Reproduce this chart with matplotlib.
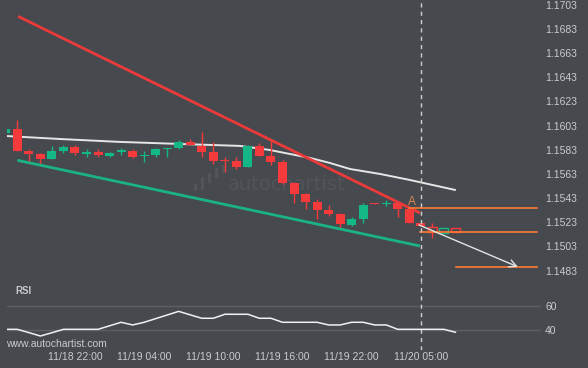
import matplotlib
matplotlib.use('Agg')
import matplotlib.pyplot as plt
from matplotlib.patches import Rectangle

plt.rcParams['font.family'] = ['Liberation Sans', 'DejaVu Sans']

# ---------------- data ----------------
opens = [1.15969, 1.16002, 1.15820, 1.15795, 1.15754, 1.15820, 1.15853, 1.15795, 1.15812, 1.15779,
         1.15812, 1.15820, 1.15779, 1.15787, 1.15837, 1.15845, 1.15894, 1.15861, 1.15812, 1.15746,
         1.15737, 1.15688, 1.15861, 1.15779, 1.15729, 1.15555, 1.15464, 1.15398, 1.15332, 1.15299,
         1.15208, 1.15258, 1.15390, 1.15382, 1.15390, 1.15340, 1.15224]
highs = [1.16002, 1.16076, 1.15837, 1.15803, 1.15861, 1.15870, 1.15870, 1.15837, 1.15837, 1.15812,
         1.15845, 1.15837, 1.15820, 1.15845, 1.15845, 1.15911, 1.15919, 1.15977, 1.15894, 1.15770,
         1.15770, 1.15870, 1.15886, 1.15903, 1.15746, 1.15564, 1.15473, 1.15423, 1.15373, 1.15307,
         1.15274, 1.15390, 1.15390, 1.15415, 1.15390, 1.15349, 1.15233]
lows = [1.15969, 1.15820, 1.15729, 1.15712, 1.15754, 1.15803, 1.15787, 1.15770, 1.15770, 1.15770,
        1.15787, 1.15762, 1.15729, 1.15770, 1.15770, 1.15837, 1.15870, 1.15770, 1.15712, 1.15646,
        1.15671, 1.15688, 1.15779, 1.15704, 1.15547, 1.15390, 1.15340, 1.15258, 1.15282, 1.15183,
        1.15200, 1.15224, 1.15382, 1.15365, 1.15274, 1.15224, 1.15200]
closes = [1.16002, 1.15820, 1.15795, 1.15754, 1.15820, 1.15853, 1.15803, 1.15812, 1.15787, 1.15803,
          1.15828, 1.15770, 1.15787, 1.15837, 1.15845, 1.15894, 1.15870, 1.15812, 1.15737, 1.15737,
          1.15688, 1.15861, 1.15779, 1.15729, 1.15555, 1.15464, 1.15398, 1.15332, 1.15299, 1.15216,
          1.15258, 1.15373, 1.15382, 1.15390, 1.15340, 1.15224, 1.15200]

# projected (hollow) candles
proj_open = [1.15191, 1.15142, 1.15183]
proj_high = [1.15224, 1.15183, 1.15183]
proj_low = [1.15100, 1.15142, 1.15150]
proj_close = [1.15150, 1.15183, 1.15150]

# moving average
ma_x = [0, 4.7, 9.9, 15.1, 20.3, 22.9, 24.65, 26.4, 28.1, 29.85, 32.45, 35.05, 38.95]
ma_y = [1.15944, 1.15919, 1.15895, 1.15878, 1.15862, 1.15828, 1.15795, 1.15762, 1.15721,
        1.15671, 1.15630, 1.15580, 1.15498]

# channel lines
res_x = [1.06, 35.92]
res_y = [1.16934, 1.15307]
sup_x = [1.0, 35.92]
sup_y = [1.15743, 1.15034]

# levels
level_upper = 1.15346
level_lower = 1.15147
level_target = 1.14858
arrow_from = (35.84, 1.15208)
arrow_to = (44.42, 1.14861)
now_index = 36

rsi = [40.8, 40.8, 38.1, 35.3, 38.0, 40.8, 40.8, 40.8, 40.8, 43.7,
       46.6, 44.4, 46.6, 49.6, 52.6, 55.6, 52.7, 49.9, 49.9, 53.2,
       53.2, 53.2, 49.9, 49.9, 46.6, 46.6, 46.6, 46.6, 44.4, 44.4,
       46.6, 46.6, 44.4, 44.4, 40.8, 40.8, 40.8, 40.8, 40.8, 38.4]

price_ticks = [1.1483, 1.1503, 1.1523, 1.1543, 1.1563, 1.1583, 1.1603, 1.1623,
               1.1643, 1.1663, 1.1683, 1.1703]
time_pos = [6, 12, 18, 24, 30, 36]
time_labels = ['11/18 22:00', '11/19 04:00', '11/19 10:00', '11/19 16:00',
               '11/19 22:00', '11/20 05:00']

# ---------------- style ----------------
BG = '#46494e'
RED = '#f53a3b'
GREEN = '#13b886'
TXT = '#c9cbcd'
ORANGE = '#ff7a32'
WM = '#51555a'

W, H = 588, 368
fig = plt.figure(figsize=(W / 100, H / 100), dpi=100, facecolor=BG)


def fx(px):
    return px / W


def fy(py):
    return 1 - py / H


ax = fig.add_axes([fx(7), fy(282), (541 - 7) / W, 282 / H])
rax = fig.add_axes([fx(7), fy(350), (541 - 7) / W, 68 / H])
for a in (ax, rax):
    a.set_facecolor(BG)
    for s in a.spines.values():
        s.set_visible(False)
    a.set_xlim(0.104, 46.42)

ax.set_ylim(1.14736, 1.17069)
rax.set_ylim(23.79, 79.75)

# watermark (behind the candles)
ax.text(fx(228), fy(190), 'autochartist', family='DejaVu Sans', fontsize=14,
        color=WM, ha='left', va='baseline', transform=fig.transFigure, zorder=0.5)
for (bx, btop, bh) in [(194, 184, 7), (201, 177, 13), (208, 173, 10), (215, 168, 10),
                       (222, 165, 8)]:
    ax.add_patch(Rectangle((fx(bx), fy(btop + bh)), 3 / W, bh / H,
                           transform=fig.transFigure, facecolor=WM,
                           edgecolor='none', zorder=0.5))

# candles
bw = 0.78
minh = 0.00009
for i, (o, h, l, c) in enumerate(zip(opens, highs, lows, closes)):
    col = GREEN if c > o else RED
    ax.vlines(i, l, h, color=col, lw=1, zorder=3)
    ax.add_patch(Rectangle((i - bw / 2, min(o, c)), bw, max(abs(c - o), minh),
                           facecolor=col, edgecolor='none', zorder=3))

n0 = len(opens)
for k, (o, h, l, c) in enumerate(zip(proj_open, proj_high, proj_low, proj_close)):
    i = n0 + k
    col = GREEN if c > o else RED
    top, bot = max(o, c), min(o, c)
    if h > top:
        ax.vlines(i, top, h, color=col, lw=1, zorder=3)
    if l < bot:
        ax.vlines(i, l, bot, color=col, lw=1, zorder=3)
    ax.add_patch(Rectangle((i - bw / 2, bot), bw, max(top - bot, minh),
                           facecolor='none', edgecolor=col, lw=1, zorder=3))

ax.plot(ma_x, ma_y, color='#e6e6e6', lw=1.4, zorder=2)
ax.plot(res_x, res_y, color='#ec3a3b', lw=2, zorder=4, solid_capstyle='butt')
ax.plot(sup_x, sup_y, color='#1bb386', lw=2, zorder=4, solid_capstyle='butt')

ax.plot([34.97, 46.07], [level_upper, level_upper], color=ORANGE, lw=1.2, zorder=4)
ax.plot([35.92, 46.07], [level_lower, level_lower], color=ORANGE, lw=1.2, zorder=4)
ax.plot([39.05, 46.07], [level_target, level_target], color=ORANGE, lw=1.2, zorder=4)
ax.annotate('', xy=arrow_to, xytext=arrow_from,
            arrowprops=dict(arrowstyle='->', color='#e4e4e4', lw=1,
                            mutation_scale=13, shrinkA=0, shrinkB=0), zorder=5)
ax.text(35.23, 1.15398, 'A', color='#d98850', fontsize=8.5, ha='center', va='center',
        zorder=5)

for a in (ax, rax):
    a.axvline(now_index, color='#d0d0d0', lw=1, ls=(0, (3, 3)), zorder=6)

ax.yaxis.tick_right()
ax.set_yticks(price_ticks)
ax.set_yticklabels([f'{p:.4f}' for p in price_ticks])
ax.tick_params(axis='y', length=0, pad=3, labelsize=7.5, labelcolor=TXT)
ax.set_xticks([])

# RSI
rax.axhline(60, color='#5b5f64', lw=1, zorder=1)
rax.axhline(40, color='#5b5f64', lw=1, zorder=1)
rax.plot(range(len(rsi)), rsi, color='#f0f0f0', lw=1.1, zorder=3)
rax.yaxis.tick_right()
rax.set_yticks([40, 60])
rax.set_yticklabels(['40', '60'])
rax.tick_params(axis='y', length=0, pad=3, labelsize=7.5, labelcolor=TXT)
rax.set_xticks(time_pos)
rax.set_xticklabels(time_labels)
rax.tick_params(axis='x', length=0, pad=1.5, labelsize=7.5, labelcolor=TXT)

fig.text(fx(15), fy(291), 'RSI', fontsize=7, fontweight='bold', color='#c4c7ca',
         ha='left', va='center')
fig.text(fx(6), fy(344), 'www.autochartist.com', fontsize=7.5, color=TXT,
         ha='left', va='center')

fig.savefig('out.png', dpi=100, facecolor=BG)
